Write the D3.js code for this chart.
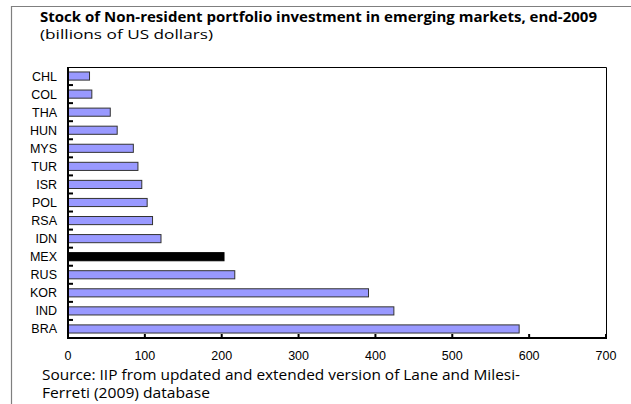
<!DOCTYPE html>
<html>
<head>
<meta charset="utf-8">
<script src="https://cdn.jsdelivr.net/npm/d3@7"></script>
<style>
body { margin: 0; background: #fff; }
svg { display: block; }
</style>
</head>
<body>
<div id="chart"></div>
<script>
var w = 631,
    h = 404;

var countries = ["CHL", "COL", "THA", "HUN", "MYS", "TUR", "ISR", "POL", "RSA", "IDN", "MEX", "RUS", "KOR", "IND", "BRA"];
var values = [28, 31, 55, 64, 85, 91, 96, 103, 110, 121, 203, 217, 391, 424, 587];
var highlight = "MEX";
var xTicks = [0, 100, 200, 300, 400, 500, 600, 700];

var plotLeft = 68, plotRight = 606, plotTop = 67, plotBottom = 338;

var svg = d3.select("#chart")
    .append("svg")
    .attr("width", w)
    .attr("height", h);

// outer frame (left and top edges)
svg.append("line")
    .attr("x1", 11.5).attr("x2", 11.5)
    .attr("y1", 6).attr("y2", h)
    .attr("stroke", "#7f7f7f")
    .attr("stroke-width", 1.2);
svg.append("line")
    .attr("x1", 11).attr("x2", w)
    .attr("y1", 6.5).attr("y2", 6.5)
    .attr("stroke", "#7f7f7f")
    .attr("stroke-width", 1.2);

// titles
svg.append("text")
    .attr("x", 40).attr("y", 22)
    .attr("font-family", "'Open Sans', sans-serif")
    .attr("font-size", "13.5px")
    .attr("font-weight", "bold")
    .attr("textLength", 557)
    .attr("lengthAdjust", "spacingAndGlyphs")
    .text("Stock of Non-resident portfolio investment in emerging markets, end-2009");

svg.append("text")
    .attr("x", 40).attr("y", 39)
    .attr("font-family", "'Open Sans', sans-serif")
    .attr("font-size", "13.5px")
    .attr("textLength", 173)
    .attr("lengthAdjust", "spacingAndGlyphs")
    .text("(billions of US dollars)");

var x = d3.scaleLinear().domain([0, 700]).range([plotLeft, plotRight]);
var y = d3.scaleBand().domain(countries).range([plotTop, plotBottom]).paddingInner(0.55).paddingOuter(0.275);
var yb = d3.scaleBand().domain(countries).range([plotTop, plotBottom]);

// plot box top and right
svg.append("path")
    .attr("d", "M" + plotLeft + "," + (plotTop + 0.5) + "H" + (plotRight + 0.5) + "V" + plotBottom)
    .attr("fill", "none")
    .attr("stroke", "#000")
    .attr("stroke-width", 1);

// bars
svg.selectAll(".bar")
    .data(countries)
    .enter()
    .append("rect")
    .attr("class", "bar")
    .attr("x", x(0))
    .attr("y", function(d) { return y(d); })
    .attr("width", function(d, i) { return x(values[i]) - x(0); })
    .attr("height", y.bandwidth())
    .attr("fill", function(d) { return d == highlight ? "#000" : "#9999ff"; })
    .attr("stroke", function(d) { return d == highlight ? "#000" : "#333"; })
    .attr("stroke-width", 1);

// y axis ticks at band boundaries
var bounds = countries.slice(1).map(function(d) { return yb(d); });
svg.selectAll(".ytick")
    .data(bounds)
    .enter()
    .append("line")
    .attr("class", "ytick")
    .attr("x1", plotLeft).attr("x2", plotLeft + 5)
    .attr("y1", function(d) { return d; })
    .attr("y2", function(d) { return d; })
    .attr("stroke", "#000")
    .attr("stroke-width", 2);

// y labels
svg.selectAll(".ylab")
    .data(countries)
    .enter()
    .append("text")
    .attr("class", "ylab")
    .attr("x", 57)
    .attr("y", function(d) { return yb(d) + yb.bandwidth() / 2 + 4.5; })
    .attr("text-anchor", "end")
    .attr("font-family", "'Liberation Sans', Arial, sans-serif")
    .attr("font-size", "12.5px")
    .text(function(d) { return d; });

// x axis
svg.selectAll(".xtick")
    .data(xTicks)
    .enter()
    .append("line")
    .attr("class", "xtick")
    .attr("x1", function(d) { return x(d); })
    .attr("x2", function(d) { return x(d); })
    .attr("y1", plotBottom).attr("y2", plotBottom - 4)
    .attr("stroke", "#000")
    .attr("stroke-width", 2);

svg.selectAll(".xlab")
    .data(xTicks)
    .enter()
    .append("text")
    .attr("class", "xlab")
    .attr("x", function(d) { return x(d); })
    .attr("y", 360)
    .attr("text-anchor", "middle")
    .attr("font-family", "'Liberation Sans', Arial, sans-serif")
    .attr("font-size", "12.5px")
    .text(function(d) { return d; });

// axis lines
svg.append("line")
    .attr("x1", plotLeft).attr("x2", plotLeft)
    .attr("y1", plotTop).attr("y2", plotBottom + 1)
    .attr("stroke", "#000").attr("stroke-width", 2);
svg.append("line")
    .attr("x1", plotLeft - 1).attr("x2", plotRight + 1)
    .attr("y1", plotBottom).attr("y2", plotBottom)
    .attr("stroke", "#000").attr("stroke-width", 2);

// source
svg.append("text")
    .attr("x", 42).attr("y", 380)
    .attr("font-family", "'Open Sans', sans-serif")
    .attr("font-size", "14.5px")
    .attr("textLength", 478)
    .attr("lengthAdjust", "spacingAndGlyphs")
    .text("Source: IIP from updated and extended version of Lane and Milesi-");
svg.append("text")
    .attr("x", 42).attr("y", 398)
    .attr("font-family", "'Open Sans', sans-serif")
    .attr("font-size", "14.5px")
    .attr("textLength", 168)
    .attr("lengthAdjust", "spacingAndGlyphs")
    .text("Ferreti (2009) database");
</script>
</body>
</html>
